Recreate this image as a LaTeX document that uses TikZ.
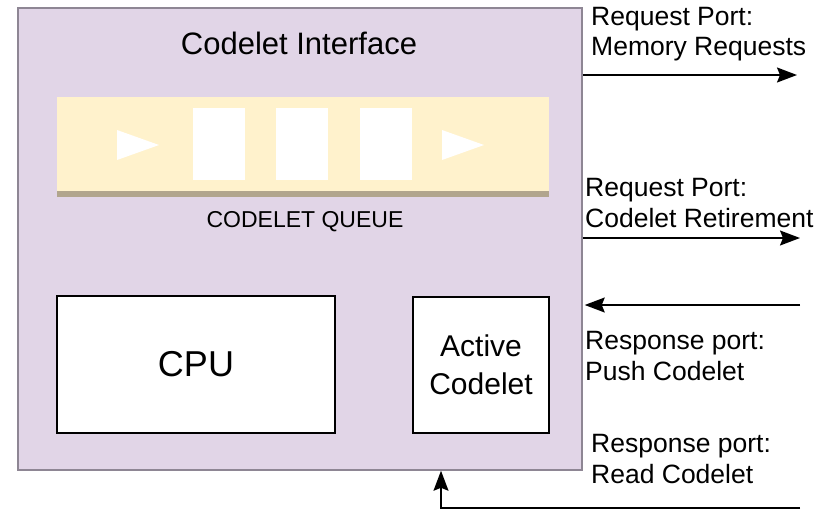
\documentclass[tikz,border=0pt]{standalone}
\usepackage{fontspec}
\setmainfont{Liberation Sans}
\usetikzlibrary{calc,arrows.meta}

\definecolor{ifacefill}{HTML}{E1D5E7}
\definecolor{ifacedraw}{HTML}{8E8694}
\definecolor{queuefill}{HTML}{FFF2CC}
\definecolor{queueshade}{HTML}{B1A58D}

\tikzset{
  blk/.style={draw=black,line width=1.3pt,fill=white,inner sep=0pt},
  slotbox/.style={fill=white,inner sep=0pt,minimum width=52pt,minimum height=72pt},
  port/.style={line width=1.6pt,-{Stealth[length=20pt,width=15pt,inset=3pt]}},
  portlbl/.style={anchor=west,align=left,inner sep=0pt,font=\fontsize{26.5}{30.5}\selectfont},
}

\begin{document}
\begin{tikzpicture}[x=1pt,y=-1pt]
                      \useasboundingbox (0,0) rectangle (839,512);
                      % interface box
                      \node[draw=ifacedraw,fill=ifacefill,line width=1.5pt,inner sep=0pt,minimum width=564pt,minimum height=462pt](iface)at(300,239){};
                      \node[font=\fontsize{31}{36}\selectfont](title)at(299,43){Codelet Interface};
                      % queue
                      \fill[queueshade] (57,189) rectangle (549,197);
                      \node[fill=queuefill,inner sep=0pt,minimum width=492pt,minimum height=94pt](queue)at(303,144){};
                      \fill[white] (117,130) -- (159,145) -- (117,160) -- cycle;
                      \node[slotbox](slota)at(219,144){};
                      \node[slotbox](slotb)at(302,144){};
                      \node[slotbox](slotc)at(386,144){};
                      \fill[white] (442,130) -- (484,145) -- (442,160) -- cycle;
                      \node[font=\fontsize{23}{27}\selectfont](qlbl)at(305,222){CODELET QUEUE};
                      % cpu and active codelet
                      \node[blk,minimum width=278pt,minimum height=137pt](cpu)at(196,364.5){};
                      \node[font=\fontsize{36}{40}\selectfont](cpulbl)at(cpu.center){CPU};
                      \node[blk,minimum width=136pt,minimum height=136pt,align=center,font=\fontsize{30}{38}\selectfont](actv)at(481,365){Active\\Codelet};
                      % ports
                      \coordinate(memEnd)at(797,75);
                      \coordinate(retEnd)at(800,238);
                      \coordinate(pushEnd)at(800,305);
                      \coordinate(readEnd)at(800,508);
                      \coordinate(readTurn)at(441,508);
                      \draw[port] (iface.east |- memEnd) -- (memEnd);
                      \draw[port] (iface.east |- retEnd) -- (retEnd);
                      \draw[port] (pushEnd) -- ($(iface.east |- pushEnd)+(2,0)$);
                      \draw[port] (readEnd) -- (readTurn) -- (readTurn |- iface.south);
                      \node[portlbl](memlbl)at(591,34){Request Port:\\Memory Requests};
                      \node[portlbl](retlbl)at(585,203){Request Port:\\Codelet Retirement};
                      \node[portlbl](pushlbl)at(585,356){Response port:\\Push Codelet};
                      \node[portlbl](readlbl)at(591,459){Response port:\\Read Codelet};
                  \end{tikzpicture}
\end{document}
